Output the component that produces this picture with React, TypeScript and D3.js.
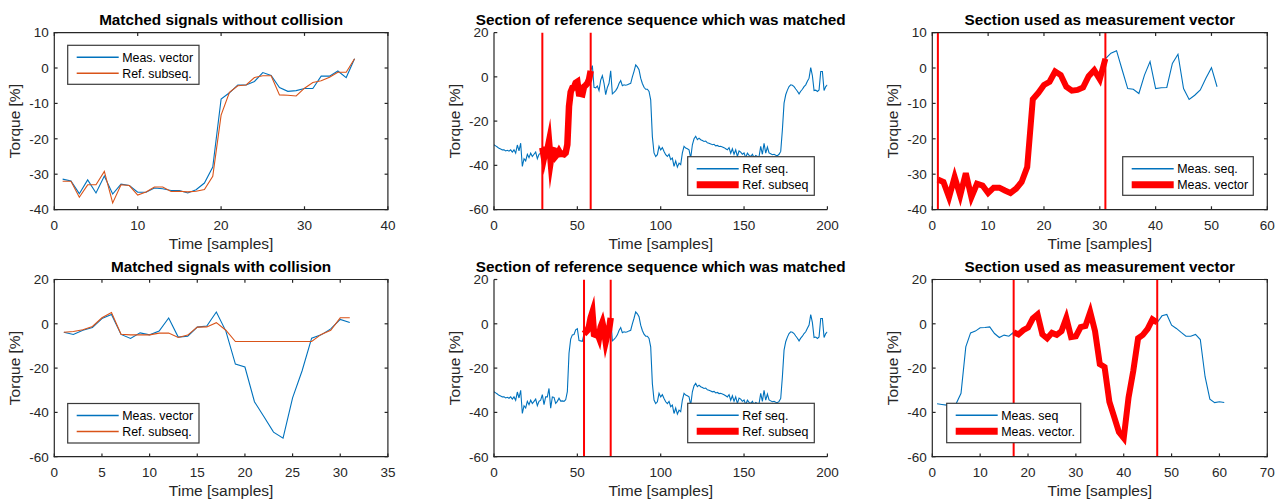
import React from "react";
import * as d3 from "d3";

// ---------- data ----------
const refSeq = [
  -30.7, -31.2, -31.7, -32.3, -32.6, -33.0, -33.0, -33.5, -33.2, -33.6,
  -33.0, -34.0, -33.0, -34.5, -30.8, -33.5, -30.0, -40.5, -37.0, -38.0,
  -35.0, -36.5, -34.5, -36.0, -35.0, -34.0, -37.0, -35.0, -34.5, -32.0,
  -36.5, -33.0, -33.0, -29.2, -38.1, -33.0, -33.2, -35.9, -35.0, -33.6,
  -34.9, -34.8, -35.0, -34.3, -30.6, -13.3, -6.9, -5.0, -4.8, -2.7,
  -2.2, -7.6, -7.7, -7.9, -4.5, -3.8, -3.0, -1.2, 2.7, 5.1,
  -4.7, -5.0, -4.2, -6.2, -1.5, 0.5, -2.9, -8.0, -4.8, -2.9,
  2.7, -7.7, -7.0, -6.2, -5.0, -3.0, -1.7, -4.0, -3.6, -3.8,
  -3.6, -3.2, -2.9, 0.0, 2.5, 5.4, 4.5, 3.2, -0.6, -3.0,
  -4.7, -5.6, -5.6, -6.6, -10.4, -27.0, -34.4, -36.0, -35.2, -31.4,
  -33.0, -32.0, -33.7, -35.2, -36.0, -35.0, -37.4, -36.7, -40.5, -38.0,
  -40.8, -39.0, -39.7, -34.4, -31.4, -32.2, -32.5, -33.0, -36.7, -30.7,
  -28.0, -26.9, -28.4, -27.7, -28.4, -28.8, -29.2, -29.0, -29.8, -30.0,
  -30.3, -30.7, -30.5, -31.2, -31.0, -31.5, -31.4, -31.7, -32.0, -32.5,
  -33.0, -32.0, -34.5, -32.5, -35.0, -33.0, -36.0, -33.5, -34.0, -35.0,
  -34.4, -36.5, -34.5, -35.5, -36.0, -35.0, -36.5, -35.5, -36.0, -36.0,
  -31.4, -35.0, -30.0, -34.5, -31.7, -34.4, -34.8, -35.2, -35.0, -35.4,
  -35.6, -35.0, -33.7, -23.9, -11.9, -8.1, -6.0, -4.4, -3.6, -3.8,
  -4.4, -5.5, -6.5, -7.7, -6.5, -5.6, -4.4, -3.6, -2.0, -0.6,
  4.2, 0.5, -6.2, -6.0, -6.6, -5.9, 2.4, 2.4, -6.2, -4.4,
  -3.6,
];

// top-left: matched signals without collision (x = 1..36)
const meas1 = [
  -31.4, -31.9, -35.5, -31.6, -35.3, -30.5, -35.6, -32.8, -33.2, -35.1,
  -35.1, -33.9, -34.1, -34.6, -34.6, -35.3, -34.4, -32.5, -28.0, -8.8,
  -7.0, -4.8, -4.8, -3.8, -1.3, -2.1, -5.5, -6.6, -6.4, -5.8,
  -5.8, -2.3, -2.3, -0.85, -2.7, 2.6,
];
const ref1 = [
  -32, -32, -36.5, -33, -33, -29.2, -38.1, -33, -33.2, -35.9,
  -35, -33.6, -33.6, -34.9, -34.8, -35, -34.8, -34.3, -30.6, -13.3,
  -6.9, -5, -4.8, -2.7, -2.2, -2.2, -7.6, -7.7, -7.9, -5.7,
  -4.1, -3.6, -2.6, -1.2, -1.2, 2.6,
];

// top-right: measurement sequence (x = 1..51), vector = 1..31
const meas3Vec = [
  -31.5, -32.2, -36.5, -30.8, -36, -29.7, -36.5, -32.7, -33.2, -35.3,
  -33.8, -33.8, -34.6, -35.3, -34.1, -32.2, -28, -8.8, -7, -4.8,
  -3.9, -1, -2, -5.3, -6.4, -6.2, -5.5, -2.3, -0.6, -3.2,
  2.6,
];
const meas3Tail = [
  4.2, 4.9, -0.5, -5.8, -6.0, -7.2, -2.0, 1.8, -5.8, -5.6,
  -5.5, 1.3, 3.9, -5.8, -8.9, -7.7, -6.2, -2.9, 0.1, -5.3,
];

// bottom-left: matched signals with collision (x = 1..31)
const meas4 = [
  -3.8, -4.8, -2.9, -1.7, 2.4, 4.2, -4.8, -6.6, -4.1, -5,
  -3.3, 2.6, -6, -5.6, -1.5, -1, 5.3, -3.3, -18.2, -19.5,
  -35.2, -42, -48.9, -51.6, -33.4, -21.2, -6.5, -5, -2.3, 2,
  0.6,
];
const ref4 = [
  -3.8, -3.5, -2.7, -1.2, 2.7, 5.1, -4.7, -5, -5, -5,
  -4.2, -4.2, -6.2, -5.1, -1.5, -1.4, 0.5, -2.9, -8, -8,
  -8, -8, -8, -8, -8, -8, -8, -4.8, -2.9, 2.7,
  2.7,
];

// bottom-right: measurement sequence (x = 1..61), vector = 17..47 (= meas4)
const meas6Head = [
  -36.1, -36.4, -36.7, -36.7, -36, -31.4, -10.4, -4.1, -3.3, -1.8,
  -1.7, -1.4, -4.4, -6.2, -5.1, -5.6,
];
const meas6Tail = [
  3.6, 4.2, -0.6, -2.1, -3.9, -5.6, -5.6, -4.8, -7.1, -23.9,
  -34, -35.6, -35.2, -35.5,
];

const ticksTopX = [0, 10, 20, 30, 40];
const ticksTopY = [-40, -30, -20, -10, 0, 10];
const ticksRefX = [0, 50, 100, 150, 200];
const ticksY60 = [-60, -40, -20, 0, 20];
const ticks3X = [0, 10, 20, 30, 40, 50, 60];
const ticks4X = [0, 5, 10, 15, 20, 25, 30, 35];
const ticks6X = [0, 10, 20, 30, 40, 50, 60, 70];

// ---------- styles ----------
const BLUE = "#0072BD";
const ORANGE = "#D95319";
const RED = "#FF0000";
const AX = "#262626";
const FONT = "'Liberation Sans', Arial, Helvetica, sans-serif";

type Pt = [number, number];
const pts = (ys: number[], x0: number): Pt[] => ys.map((v, i) => [x0 + i, v]);

type Series = { pts: Pt[]; color: string; width: number; miter?: number };
type LegendItem = { label: string; color: string; width: number };
type LegendSpec = { x: number; y: number; w: number; h: number; items: LegendItem[] };

function Legend({ spec }: { spec: LegendSpec }) {
  const { x, y, w, h, items } = spec;
  return (
    <g>
      <rect x={x} y={y} width={w} height={h} fill="#fff" stroke="#3a3a3a" strokeWidth={1.2} />
      {items.map((it, i) => {
        const ry = y + 12 + i * 16;
        return (
          <g key={i}>
            <line x1={x + 9} x2={x + 51} y1={ry} y2={ry} stroke={it.color} strokeWidth={it.width} />
            <text x={x + 54.5} y={ry + 4.6} fontSize={12.4} fill="#000" fontFamily={FONT}>
              {it.label}
            </text>
          </g>
        );
      })}
    </g>
  );
}

type PanelProps = {
  id: string;
  left: number;
  top: number;
  width: number;
  height: number;
  xDomain: [number, number];
  yDomain: [number, number];
  xTicks: number[];
  yTicks: number[];
  box: boolean;
  title: string;
  series: Series[];
  vlines: number[];
  legend: LegendSpec;
};

function Panel(p: PanelProps) {
  const { id, left, top, width, height, xDomain, yDomain, xTicks, yTicks, box, title, series, vlines, legend } = p;
  const x = d3.scaleLinear().domain(xDomain).range([left, left + width]);
  const y = d3.scaleLinear().domain(yDomain).range([top + height, top]);
  const line = d3
    .line<Pt>()
    .x((d) => x(d[0]))
    .y((d) => y(d[1]));
  const bottom = top + height;
  const right = left + width;
  const tl = 3.3;
  const aw = 1.2;
  return (
    <g>
      <defs>
        <clipPath id={id}>
          <rect x={left} y={top} width={width} height={height} />
        </clipPath>
      </defs>
      <g clipPath={`url(#${id})`}>
        {series.map((s, i) => (
          <path
            key={i}
            d={line(s.pts) || ""}
            fill="none"
            stroke={s.color}
            strokeWidth={s.width}
            strokeLinejoin="miter"
            strokeMiterlimit={s.miter ?? 4}
          />
        ))}
        {vlines.map((v, i) => (
          <line key={i} x1={x(v)} x2={x(v)} y1={top} y2={bottom} stroke={RED} strokeWidth={2} />
        ))}
      </g>
      {/* axes */}
      <g stroke={AX} strokeWidth={aw} fill="none">
        <line x1={left} x2={left} y1={top} y2={bottom + aw / 2} />
        <line x1={left - aw / 2} x2={right + (box ? aw / 2 : 0)} y1={bottom} y2={bottom} />
        {box && <line x1={right} x2={right} y1={top - aw / 2} y2={bottom} />}
        {box && <line x1={left - aw / 2} x2={right + aw / 2} y1={top} y2={top} />}
        {xTicks.map((t) => (
          <g key={"xt" + t}>
            <line x1={x(t)} x2={x(t)} y1={bottom} y2={bottom - tl} />
            {box && <line x1={x(t)} x2={x(t)} y1={top} y2={top + tl} />}
          </g>
        ))}
        {yTicks.map((t) => (
          <g key={"yt" + t}>
            <line x1={left} x2={left + tl} y1={y(t)} y2={y(t)} />
            {box && <line x1={right} x2={right - tl} y1={y(t)} y2={y(t)} />}
          </g>
        ))}
      </g>
      <g fontFamily={FONT} fill={AX} fontSize={13.5}>
        {xTicks.map((t) => (
          <text key={"xl" + t} x={x(t)} y={bottom + 20.5} textAnchor="middle">
            {String(t)}
          </text>
        ))}
        {yTicks.map((t) => (
          <text key={"yl" + t} x={left - 5.5} y={y(t) + 4.8} textAnchor="end">
            {String(t)}
          </text>
        ))}
      </g>
      <text
        x={(left + right) / 2}
        y={bottom + 39.5}
        textAnchor="middle"
        fontFamily={FONT}
        fontSize={15.5}
        fill={AX}
      >
        Time [samples]
      </text>
      <text
        transform={`translate(${left - 34.5},${(top + bottom) / 2}) rotate(-90)`}
        textAnchor="middle"
        fontFamily={FONT}
        fontSize={15.5}
        fill={AX}
      >
        Torque [%]
      </text>
      <text
        x={(left + right) / 2}
        y={top - 7.8}
        textAnchor="middle"
        fontFamily={FONT}
        fontSize={15.3}
        fontWeight="bold"
        fill="#000"
      >
        {title}
      </text>
      <Legend spec={legend} />
    </g>
  );
}

const refPts: Pt[] = refSeq.map((v, i) => [i, v]);
const sub = (a: number, b: number): Pt[] => refPts.filter((d) => d[0] >= a && d[0] <= b);

export default function App() {
  const cols = [
    { left: 54.3, width: 333.6 },
    { left: 494, width: 333.4 },
    { left: 932.3, width: 335 },
  ];
  const rows = [
    { top: 32.6, height: 177 },
    { top: 279.5, height: 177.2 },
  ];
  const meas3All = [...pts(meas3Vec, 1), ...pts(meas3Tail, 32)];
  const meas6All = [...pts(meas6Head, 1), ...pts(meas4, 17), ...pts(meas6Tail, 48)];
  const thin = 1.1;
  const thick = 6;

  return (
    <svg
      width={1281}
      height={502}
      style={{ position: "absolute", left: 0, top: 0, background: "#fff" }}
    >
      <rect x={0} y={0} width={1281} height={502} fill="#fff" />
      <Panel
        id="c1"
        {...cols[0]}
        {...rows[0]}
        xDomain={[0, 40]}
        yDomain={[-40, 10]}
        xTicks={ticksTopX}
        yTicks={ticksTopY}
        box={true}
        title="Matched signals without collision"
        series={[
          { pts: pts(meas1, 1), color: BLUE, width: thin },
          { pts: pts(ref1, 1), color: ORANGE, width: thin },
        ]}
        vlines={[]}
        legend={{
          x: 67.7, y: 45.3, w: 131.3, h: 39,
          items: [
            { label: "Meas. vector", color: BLUE, width: 1.5 },
            { label: "Ref. subseq.", color: ORANGE, width: 1.5 },
          ],
        }}
      />
      <Panel
        id="c2"
        {...cols[1]}
        {...rows[0]}
        xDomain={[0, 200]}
        yDomain={[-60, 20]}
        xTicks={ticksRefX}
        yTicks={ticksY60}
        box={false}
        title="Section of reference sequence which was matched"
        series={[
          { pts: refPts, color: BLUE, width: thin },
          { pts: sub(29, 58), color: RED, width: 6.5, miter: 40 },
        ]}
        vlines={[29, 58]}
        legend={{
          x: 687.7, y: 156.7, w: 126.6, h: 38.6,
          items: [
            { label: "Ref seq.", color: BLUE, width: 1.5 },
            { label: "Ref. subseq", color: RED, width: 7 },
          ],
        }}
      />
      <Panel
        id="c3"
        {...cols[2]}
        {...rows[0]}
        xDomain={[0, 60]}
        yDomain={[-40, 10]}
        xTicks={ticks3X}
        yTicks={ticksTopY}
        box={true}
        title="Section used as measurement vector"
        series={[
          { pts: meas3All, color: BLUE, width: thin },
          { pts: pts(meas3Vec, 1), color: RED, width: thick, miter: 4 },
        ]}
        vlines={[1, 31]}
        legend={{
          x: 1122.7, y: 156.7, w: 130.6, h: 38.6,
          items: [
            { label: "Meas. seq.", color: BLUE, width: 1.5 },
            { label: "Meas. vector", color: RED, width: 7 },
          ],
        }}
      />
      <Panel
        id="c4"
        {...cols[0]}
        {...rows[1]}
        xDomain={[0, 35]}
        yDomain={[-60, 20]}
        xTicks={ticks4X}
        yTicks={ticksY60}
        box={true}
        title="Matched signals with collision"
        series={[
          { pts: pts(meas4, 1), color: BLUE, width: thin },
          { pts: pts(ref4, 1), color: ORANGE, width: thin },
        ]}
        vlines={[]}
        legend={{
          x: 67.7, y: 403.5, w: 131.3, h: 39.5,
          items: [
            { label: "Meas. vector", color: BLUE, width: 1.5 },
            { label: "Ref. subseq.", color: ORANGE, width: 1.5 },
          ],
        }}
      />
      <Panel
        id="c5"
        {...cols[1]}
        {...rows[1]}
        xDomain={[0, 200]}
        yDomain={[-60, 20]}
        xTicks={ticksRefX}
        yTicks={ticksY60}
        box={false}
        title="Section of reference sequence which was matched"
        series={[
          { pts: refPts, color: BLUE, width: thin },
          { pts: sub(54, 70), color: RED, width: 6.5, miter: 40 },
        ]}
        vlines={[54, 70]}
        legend={{
          x: 687.7, y: 403.3, w: 126.6, h: 39.4,
          items: [
            { label: "Ref seq.", color: BLUE, width: 1.5 },
            { label: "Ref. subseq", color: RED, width: 7 },
          ],
        }}
      />
      <Panel
        id="c6"
        {...cols[2]}
        {...rows[1]}
        xDomain={[0, 70]}
        yDomain={[-60, 20]}
        xTicks={ticks6X}
        yTicks={ticksY60}
        box={true}
        title="Section used as measurement vector"
        series={[
          { pts: meas6All, color: BLUE, width: thin },
          { pts: pts(meas4, 17), color: RED, width: thick, miter: 4 },
        ]}
        vlines={[17, 47]}
        legend={{
          x: 946.7, y: 403.3, w: 134, h: 39.4,
          items: [
            { label: "Meas. seq", color: BLUE, width: 1.5 },
            { label: "Meas. vector.", color: RED, width: 7 },
          ],
        }}
      />
    </svg>
  );
}
